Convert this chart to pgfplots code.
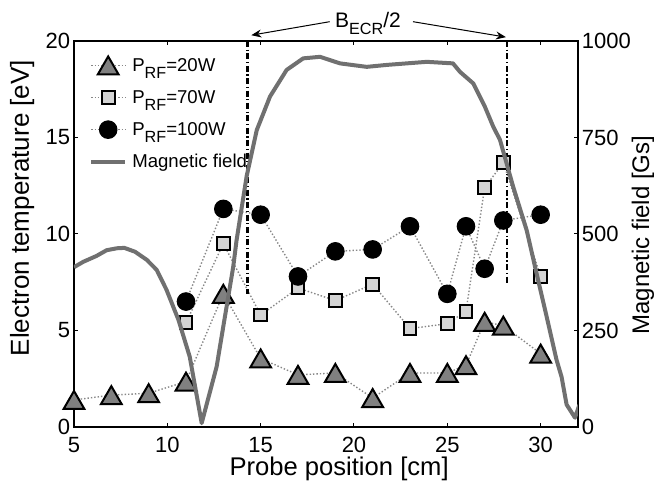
\documentclass[border=0pt]{standalone}
\usepackage{fontspec}
\setmainfont{Liberation Sans}
\usepackage{pgfplots}
\pgfplotsset{compat=1.18}
\usetikzlibrary{arrows.meta}

\definecolor{trifill}{RGB}{128,128,128}
\definecolor{sqfill}{RGB}{212,212,212}
\definecolor{bline}{RGB}{112,112,112}
\definecolor{dotc}{RGB}{135,135,135}

\newcommand\lsub[1]{\raisebox{-3.6pt}[0pt][0pt]{\fontsize{8.1}{9}\selectfont #1}}

\pgfdeclareplotmark{mtri}{%
  \pgfpathmoveto{\pgfqpoint{0pt}{0.866\pgfplotmarksize}}%
  \pgfpathlineto{\pgfqpoint{-\pgfplotmarksize}{-0.866\pgfplotmarksize}}%
  \pgfpathlineto{\pgfqpoint{\pgfplotmarksize}{-0.866\pgfplotmarksize}}%
  \pgfpathclose
  \pgfusepathqfillstroke
}

\begin{document}
\begin{tikzpicture}
\begin{axis}[
  at={(0,0)}, anchor=south west,
  scale only axis, width=252pt, height=193pt,
  xmin=5, xmax=32, ymin=0, ymax=20,
  xtick={5,10,...,30}, ytick={0,5,...,20},
  tick align=inside, major tick length=2pt,
  tick style={black, line width=0.5pt},
  axis line style={line width=0.6pt},
  ytick pos=left, xtick pos=both,
  /pgf/number format/assume math mode=true,
  /pgf/number format/1000 sep={},
  tick label style={font=\fontsize{11}{13}\selectfont},
  xticklabel style={yshift=-1.5pt},
  yticklabel style={xshift=1.6pt},
  xlabel={Probe position [cm]}, ylabel={Electron temperature [eV]},
  xlabel style={font=\fontsize{12.8}{14}\selectfont, at={(axis description cs:0.526,-0.108)}, anchor=center},
  ylabel style={font=\fontsize{13}{14}\selectfont, at={(axis description cs:-0.103,0.567)}, anchor=center, rotate=0},
  clip=false,
  legend style={at={(axis description cs:0.03,0.96)}, anchor=north west, draw=none, fill=none,
    inner sep=0pt, outer sep=0pt,
    nodes={inner sep=0pt, text height=7pt, text depth=1pt},
    font=\fontsize{9.3}{11}\selectfont, row sep=7.6pt, column sep=2.5pt},
  legend cell align=left,
]
\addplot[densely dotted, dotc, line width=0.7pt,
  mark=mtri, mark size=5.2pt, mark options={solid, fill=trifill, draw=black, line width=1pt}]
  coordinates {(5,1.4) (7,1.65) (9,1.75) (11,2.35) (13,6.9) (15,3.55) (17,2.7) (19,2.8) (21,1.5) (23,2.8) (25,2.8) (26,3.2) (27,5.45) (28,5.25) (30,3.8)};
\addlegendentry{P\lsub{RF}=20W}
\addplot[densely dotted, dotc, line width=0.7pt,
  mark=square*, mark size=3.2pt, mark options={solid, fill=sqfill, draw=black, line width=1pt}]
  coordinates {(11,5.4) (13,9.5) (15,5.8) (17,7.2) (19,6.55) (21,7.4) (23,5.1) (25,5.35) (26,6.0) (27,12.4) (28,13.7) (30,7.8)};
\addlegendentry{P\lsub{RF}=70W}
\addplot[densely dotted, dotc, line width=0.7pt,
  mark=*, mark size=4.4pt, mark options={solid, fill=black, draw=black, line width=0.5pt}]
  coordinates {(11,6.5) (13,11.3) (15,11.0) (17,7.8) (19,9.1) (21,9.2) (23,10.4) (25,6.9) (26,10.4) (27,8.2) (28,10.7) (30,11.0)};
\addlegendentry{P\lsub{RF}=100W}
\addlegendimage{bline, line width=2pt}
\addlegendentry{Magnetic field}
% B_ECR/2 markers
\draw[black, line width=1.1pt, dash pattern=on 3pt off 1.3pt on 0.6pt off 1.3pt] (axis cs:14.3,20) -- (axis cs:14.3,6.9);
\draw[black, line width=1.1pt, dash pattern=on 3pt off 1.3pt on 0.6pt off 1.3pt] (axis cs:28.18,20) -- (axis cs:28.18,7.35);
\node[font=\fontsize{10.5}{12}\selectfont, anchor=center] at (axis cs:20.75,21.1) {B\lsub{ECR}/2};
\draw[-{Stealth[length=5pt,width=4pt]}, line width=0.5pt] (axis cs:18.7,21.0) -- (axis cs:14.5,20.3);
\draw[-{Stealth[length=5pt,width=4pt]}, line width=0.5pt] (axis cs:23.16,21.0) -- (axis cs:28.14,20.2);
\end{axis}
\begin{axis}[
  at={(0,0)}, anchor=south west,
  scale only axis, width=252pt, height=193pt,
  xmin=5, xmax=32, ymin=0, ymax=1000,
  axis x line=none, axis y line*=right,
  ytick={0,250,...,1000},
  tick align=inside, major tick length=2pt,
  tick style={black, line width=0.5pt},
  axis line style={line width=0.6pt},
  /pgf/number format/assume math mode=true,
  /pgf/number format/1000 sep={},
  tick label style={font=\fontsize{11}{13}\selectfont},
  yticklabel style={xshift=-1.6pt},
  ylabel={Magnetic field [Gs]},
  ylabel style={font=\fontsize{12}{14}\selectfont, at={(axis description cs:1.129,0.497)}, anchor=center, rotate=0},
]
\addplot[bline, line width=2pt, line join=round] coordinates {
(5.0,414) (5.5,428) (6.2,443) (6.75,458) (7.3,463) (7.7,464) (8.27,454) (8.9,433) (9.43,407) (9.96,355) (10.6,277) (11.2,182) (11.84,10)
(12.64,156) (13.53,415) (13.71,484) (14.25,650) (14.79,769) (15.5,856) (16.39,925) (17.28,955) (18.18,959) (19.25,942) (20.68,933) (21.75,938) (23.9,946) (25.3,942) (25.68,920) (26.39,890) (27.01,830) (27.46,778) (27.82,744) (28.53,622) (29.25,510) (29.78,398) (30.32,286) (30.85,174) (31.12,130) (31.39,58) (31.84,24) (32.07,57)
};
\end{axis}
\pgfresetboundingbox
\path[use as bounding box] (-37pt,-29.5pt) rectangle (295.5pt,213.5pt);
\end{tikzpicture}
\end{document}
